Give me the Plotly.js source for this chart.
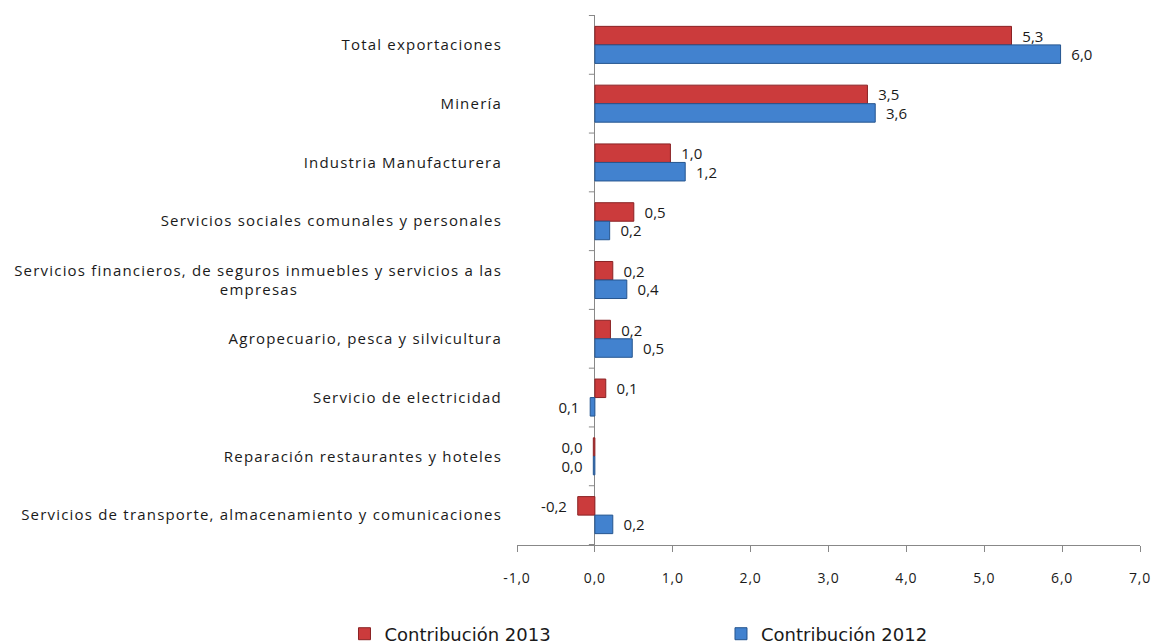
<!DOCTYPE html>
<html>
<head>
<meta charset="utf-8">
<script src="https://cdn.plot.ly/plotly-3.0.1.min.js"></script>
<style>
html,body{margin:0;padding:0;background:#fff;}
#chart{width:1156px;height:644px;}
#chart .ytick text{letter-spacing:1.2px;}
#chart .xtick text{letter-spacing:0.8px;}
</style>
</head>
<body>
<div id="chart"></div>
<script>
var categories = [
  "Total exportaciones",
  "Minería",
  "Industria Manufacturera",
  "Servicios sociales comunales y personales",
  "Servicios financieros, de seguros inmuebles y servicios a las<br>empresas" + "\u00a0".repeat(40),
  "Agropecuario, pesca y silvicultura",
  "Servicio de electricidad",
  "Reparación restaurantes y hoteles",
  "Servicios de transporte, almacenamiento y comunicaciones"
];
var contrib2013 = [5.35, 3.5, 0.97, 0.5, 0.23, 0.2, 0.14, -0.02, -0.22];
var contrib2012 = [5.98, 3.6, 1.16, 0.19, 0.41, 0.48, -0.06, -0.02, 0.23];
var labels2013 = ["5,3", "3,5", "1,0", "0,5", "0,2", "0,2", "0,1", "0,0", "-0,2"];
var labels2012 = ["6,0", "3,6", "1,2", "0,2", "0,4", "0,5", "0,1", "0,0", "0,2"];
var xTickVals = [-1, 0, 1, 2, 3, 4, 5, 6, 7];
var xTickText = ["-1,0", "0,0", "1,0", "2,0", "3,0", "4,0", "5,0", "6,0", "7,0"];

function pad(labels, values) {
  return labels.map(function (t, i) {
    return values[i] < 0 ? t + "\u00a0\u00a0" : "\u00a0\u00a0" + t;
  });
}

var font = "Open Sans, sans-serif";
var traces = [
  {
    type: "bar", orientation: "h", name: "Contribución 2013", legend: "legend",
    y: categories, x: contrib2013, text: pad(labels2013, contrib2013),
    textposition: "outside", cliponaxis: false, constraintext: "none",
    textfont: {family: font, size: 15, color: "#1a1a1a"},
    marker: {color: "#cb3b3c", line: {color: "#8a2224", width: 1}},
    hoverinfo: "x"
  },
  {
    type: "bar", orientation: "h", name: "Contribución 2012", legend: "legend2",
    y: categories, x: contrib2012, text: pad(labels2012, contrib2012),
    textposition: "outside", cliponaxis: false, constraintext: "none",
    textfont: {family: font, size: 15, color: "#1a1a1a"},
    marker: {color: "#4282cf", line: {color: "#25558f", width: 1}},
    hoverinfo: "x"
  }
];

var shapes = [];
for (var i = 0; i <= categories.length; i++) {
  shapes.push({
    type: "line", xref: "x", yref: "y", xsizemode: "pixel", xanchor: 0,
    x0: -6, x1: 0, y0: i - 0.5, y1: i - 0.5,
    line: {color: "#888", width: 1}
  });
}

function legendAt(xc) {
  return {
    orientation: "h", xref: "container", yref: "container",
    x: xc, xanchor: "left", y: 0.0155, yanchor: "middle",
    font: {family: "DejaVu Sans, sans-serif", size: 18, color: "#1a1a1a"},
    itemwidth: 30, bgcolor: "rgba(0,0,0,0)"
  };
}

var layout = {
  width: 1156, height: 644,
  margin: {l: 517, r: 16, t: 15, b: 99, autoexpand: false},
  paper_bgcolor: "#fff", plot_bgcolor: "#fff",
  barmode: "group", bargap: 0.37, bargroupgap: 0,
  separators: ",.",
  showlegend: true,
  font: {family: font, size: 14, color: "#1a1a1a"},
  xaxis: {
    range: [-1, 7], tickvals: xTickVals, ticktext: xTickText,
    showgrid: false, showline: true, linecolor: "#888", linewidth: 1,
    ticks: "outside", ticklen: 6, tickcolor: "#888",
    ticklabelstandoff: 14,
    zeroline: true, zerolinecolor: "#888", zerolinewidth: 1,
    tickfont: {family: font, size: 14, color: "#1a1a1a"}
  },
  yaxis: {
    autorange: "reversed", type: "category",
    showgrid: false, showline: false, ticks: "", ticklabelstandoff: 14,
    tickfont: {family: font, size: 15, color: "#1a1a1a"}
  },
  legend: legendAt(0.298),
  legend2: legendAt(0.6237),
  shapes: shapes
};

Plotly.newPlot("chart", traces, layout, {displayModeBar: false, staticPlot: true});
</script>
</body>
</html>
